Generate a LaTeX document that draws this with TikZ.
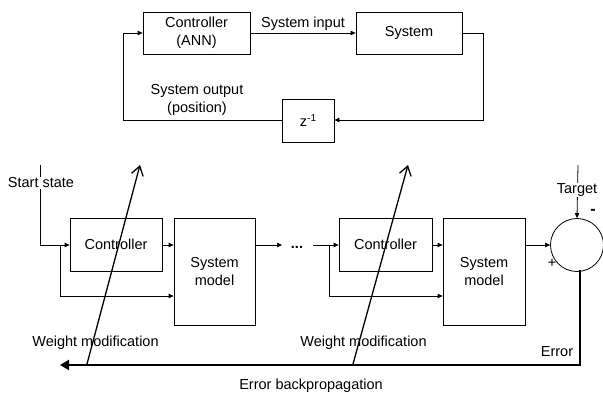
\documentclass[tikz,border=0pt]{standalone}
\usepackage{fontspec}
\setmainfont{Liberation Sans}
\usetikzlibrary{arrows.meta,calc}
\begin{document}
\begin{tikzpicture}[x=1pt,y=-1pt,
  font=\fontsize{14.5}{18}\selectfont,
  blk/.style={draw, line width=0.8pt, minimum width=#1, inner sep=0pt, align=center},
  thin/.style={line width=0.8pt},
  arr/.style={thin, -{Triangle[length=5pt,width=4.5pt]}},
  wm/.style={line width=1.3pt, -{Straight Barb[length=9pt,width=12pt,line width=1.3pt]}},
  lbl/.style={inner sep=1pt, align=center},
  cover/.style={fill=white, inner sep=1pt}]
\useasboundingbox (0,0) rectangle (603,396);
% top loop
\node[blk=107pt, minimum height=42pt] (ctrlA) at (196.5,33) {Controller\\(ANN)};
\node[blk=106pt, minimum height=42pt] (sys) at (409,33) {System};
\node[blk=52pt, minimum height=43pt] (zbox) at (308,120.5) {z\raisebox{0.6ex}{\fontsize{10}{10}\selectfont -1}};
\coordinate (tr) at (483,33);
\coordinate (tl) at (123,120);
\draw[arr] (ctrlA.east) -- node[lbl, above=1pt] {System input} (sys.west);
\draw[arr] (sys.east) -- (tr) |- (zbox.east |- tl);
\draw[arr] (zbox.west |- tl) -- (tl) |- (ctrlA.west);
\node[lbl] (outlbl) at (197,100) {System output\\(position)};
% bottom chain
\node[blk=92pt, minimum height=53pt] (c1) at (116,244.5) {Controller};
\node[blk=81pt, minimum height=107pt] (m1) at (214.5,271.5) {System\\model};
\node[blk=93pt, minimum height=53pt] (c2) at (385.5,244.5) {Controller};
\node[blk=82pt, minimum height=107pt] (m2) at (484,271.5) {System\\model};
\node[draw, thin, circle, minimum size=53pt, inner sep=0pt] (sum) at (577,245) {};
% start state
\coordinate (s0) at (40,165);
\coordinate (s1) at (40,245);
\coordinate (b1) at (60,245);
\coordinate (b1d) at (60,296);
\draw[thin] (s0) -- (s1);
\node[cover] (start) at (41,183) {Start state};
\draw[arr] (s1) -- (c1.west |- s1);
\draw[arr] (b1) -- (b1d) -- (m1.west |- b1d);
\draw[arr] (c1.east |- s1) -- (m1.west |- s1);
\coordinate (o1) at (282,245);
\draw[arr] (m1.east |- s1) -- (o1);
\node[inner sep=0pt, anchor=base, font=\fontsize{14.5}{18}\selectfont\bfseries] (dots) at (297,248) {...};
\coordinate (d1) at (313,245);
\coordinate (b2) at (329,245);
\coordinate (b2d) at (329,296);
\draw[arr] (d1) -- (c2.west |- d1);
\draw[arr] (b2) -- (b2d) -- (m2.west |- b2d);
\draw[arr] (c2.east |- d1) -- (m2.west |- d1);
\draw[arr] (m2.east |- d1) -- (sum.west);
% target
\coordinate (t0) at (578,165);
\draw[arr] (t0) -- (sum.north);
\node[cover] (target) at (577,190) {Target};
\node[inner sep=0pt, font=\fontsize{16}{18}\selectfont\bfseries] (minus) at (593,212) {-};
\node[inner sep=0pt] (plus) at (552,263) {+};
% error backpropagation
\coordinate (e0) at (580,270);
\coordinate (e1) at (580,365);
\coordinate (e2) at (60,365);
\draw[line width=2.6pt, -{Triangle[length=9pt,width=10pt]}] (e0) -- (e1) -- (e2);
\node[lbl] (err) at (557,352) {Error};
\node[lbl] (ebp) at (311,386) {Error backpropagation};
% weight modification
\node[lbl] (wm1) at (95.5,343) {Weight modification};
\node[lbl] (wm2) at (363.5,343) {Weight modification};
\coordinate (w1a) at (87,364);
\coordinate (w1b) at (140,165);
\coordinate (w2a) at (353,364);
\coordinate (w2b) at (408,165);
\draw[wm] (w1a) -- (w1b);
\draw[wm] (w2a) -- (w2b);
\end{tikzpicture}
\end{document}
